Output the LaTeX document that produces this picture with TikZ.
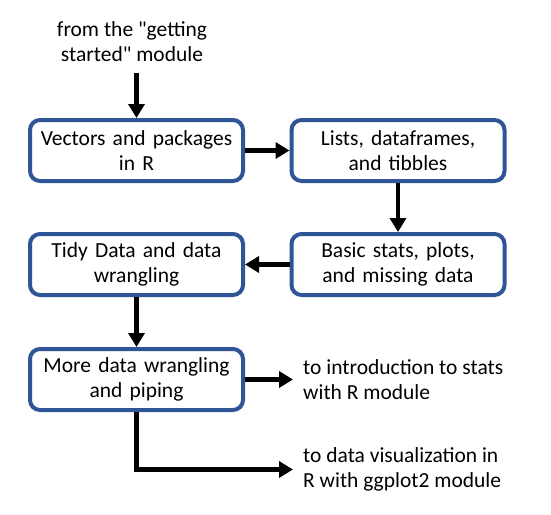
\documentclass[tikz,border=0pt]{standalone}
\usepackage{fontspec}
\setmainfont{Carlito}[Ligatures=TeXOff]
\usetikzlibrary{arrows.meta}
\definecolor{boxblue}{HTML}{2F5597}
\tikzset{
  stage/.style={draw=boxblue,line width=4pt,rounded corners=10pt,fill=white,
    minimum width=213pt,minimum height=61pt,text width=205pt,align=center,
    inner sep=0pt,font=\fontsize{21.5}{25}\selectfont},
  note/.style={align=left,inner sep=0pt,font=\fontsize{21.5}{25}\selectfont},
  flow/.style={line width=4.5pt,-{Triangle[length=14pt,width=16pt]}}
}
\begin{document}
\begin{tikzpicture}[x=1pt,y=-1pt]
\useasboundingbox (0,0) rectangle (551,514);
% boxes
\node[stage] (vectors) at (136.5,150.5) {Vectors and packages\\in R};
\node[stage] (lists) at (398,150.5) {Lists, dataframes,\\and tibbles};
\node[stage] (basic) at (398,264.5) {Basic stats, plots,\\and missing data};
\node[stage] (tidy) at (136.5,264.5) {Tidy Data and data\\wrangling};
\node[stage] (more) at (136.5,379.5) {More data wrangling\\and piping};
% texts
\node[note,align=center] (start) at (132,42) {from the "getting\\started" module};
\node[note,anchor=west] (stats) at (303,379.5) {to introduction to stats\\with R module};
\node[note,anchor=west] (viz) at (303,469.5) {to data visualization in\\R with ggplot2 module};
\coordinate (startend) at (136.5,73);
% arrows
\draw[flow] (startend) -- (vectors.north);
\draw[flow] (vectors.east) -- (lists.west);
\draw[flow] (lists.south) -- (basic.north);
\draw[flow] (basic.west) -- (tidy.east);
\draw[flow] (tidy.south) -- (more.south |- more.north);
\draw[flow] (more.east) -- ([xshift=-10pt]stats.west);
\draw[flow] (more.south) |- ([xshift=-10pt]viz.west);
\end{tikzpicture}
\end{document}
